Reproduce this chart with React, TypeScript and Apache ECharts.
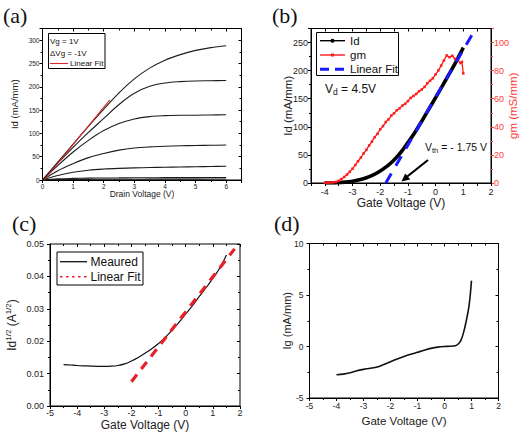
import React, { useEffect, useRef } from 'react';
import * as echarts from 'echarts';

const FONT = '"Liberation Sans", Arial, Helvetica, sans-serif';
const SERIF = '"Liberation Serif", "Times New Roman", serif';

// ---------- (a) output characteristics ----------
const vdValues = [0, 0.5, 1, 1.5, 2, 2.5, 3, 3.5, 4, 4.5, 5, 5.5, 6];
const idVgP1 = [0, 38.5, 77, 115, 152, 187, 217, 240, 257, 269, 278, 284, 288];
const idVg0 = [0, 36, 70, 102, 132, 162, 186, 201, 208, 211, 212.5, 213, 213.5];
const idVgM1 = [0, 31, 60, 85, 106, 121, 131, 136, 138, 139, 139, 139.5, 140];
const idVgM2 = [0, 20, 35, 48, 57, 64, 68.5, 71, 72.5, 73.5, 74, 74.5, 75];
const idVgM3 = [0, 9.5, 16.5, 21, 23.5, 25, 26, 26.8, 27.4, 28, 28.5, 29, 29.5];
const idVgM4 = [0, 2.5, 3.5, 4, 4.3, 4.5, 4.7, 4.8, 5, 5.1, 5.2, 5.3, 5.5];
const idVgM5 = [0, 0.9, 1.2, 1.4, 1.5, 1.6, 1.7, 1.8, 1.8, 1.9, 1.9, 2.0, 2.0];
const outputCurves = [idVgP1, idVg0, idVgM1, idVgM2, idVgM3, idVgM4, idVgM5];
const fitA = [[0.05, 0], [2.2, 172]];

// ---------- (b) transfer characteristics ----------
const vgId = [-4, -3.75, -3.5, -3.25, -3, -2.75, -2.5, -2.25, -2, -1.75, -1.5, -1.25, -1, -0.75, -0.5, -0.25, 0, 0.25, 0.5, 0.75, 1];
const idTransfer = [0, 0, 0.5, 1.5, 3.2, 5.8, 9.3, 14.5, 21.5, 30, 41, 55, 72, 90, 110, 131, 152, 173.5, 195, 217, 241];
const vgGm = [-4, -3.9, -3.8, -3.7, -3.6, -3.5, -3.4, -3.3, -3.2, -3.1, -3, -2.9, -2.8, -2.7, -2.6, -2.5, -2.4, -2.3, -2.2, -2.1, -2, -1.9, -1.8, -1.7, -1.6, -1.5, -1.4, -1.3, -1.2, -1.1, -1, -0.9, -0.8, -0.7, -0.6, -0.5, -0.4, -0.3, -0.2, -0.1, 0, 0.1, 0.2, 0.3, 0.4, 0.5, 0.6, 0.7, 0.8, 0.9, 0.95, 1];
const gmValues = [0.2, 0.1, 0.3, 0.4, 0.8, 1.6, 2.8, 4.3, 6.0, 8.0, 10.2, 12.8, 15.5, 18.1, 21.0, 23.6, 26.8, 29.5, 32.6, 35.0, 38.2, 40.5, 43.4, 45.3, 48.0, 49.6, 51.8, 53.2, 55.1, 56.4, 58.3, 60.6, 62.0, 63.4, 65.3, 66.6, 68.4, 71.0, 72.8, 74.6, 77.4, 80.2, 83.6, 87.2, 90.8, 89.6, 90.6, 88.4, 87.6, 85.4, 86.2, 78.0];
const fitB = [[-1.8, 0], [1.34, 266]];

// ---------- (c) sqrt(Id) ----------
const vgC = [-4.5, -4.25, -4, -3.75, -3.5, -3.25, -3, -2.75, -2.5, -2.25, -2, -1.75, -1.5, -1.25, -1, -0.75, -0.5, -0.25, 0, 0.25, 0.5, 0.75, 1, 1.25, 1.5];
const sqrtId = [0.0128, 0.01265, 0.0125, 0.0124, 0.01232, 0.01225, 0.01222, 0.01228, 0.0125, 0.013, 0.0139, 0.015, 0.0163, 0.0177, 0.0193, 0.0212, 0.0234, 0.0258, 0.0284, 0.031, 0.0338, 0.0365, 0.0394, 0.0425, 0.0466];
const fitC = [[-2, 0.0075], [1.8, 0.0485]];

// ---------- (d) gate current ----------
const vgD = [-4, -3.75, -3.5, -3.25, -3, -2.75, -2.5, -2.25, -2, -1.75, -1.5, -1.25, -1, -0.75, -0.5, -0.25, 0, 0.2, 0.4, 0.5, 0.6, 0.7, 0.8, 0.9, 0.95, 1];
const igValues = [-2.75, -2.68, -2.55, -2.35, -2.22, -2.12, -2.0, -1.75, -1.48, -1.22, -0.98, -0.76, -0.56, -0.36, -0.18, -0.06, 0, 0.02, 0.08, 0.22, 0.55, 1.3, 2.4, 3.8, 4.9, 6.4];

const zip = (xs: number[], ys: number[]) => xs.map((x, i) => [x, ys[i]]);

const tickLabel = (size: number, extra: any = {}) => ({
  fontSize: size, color: '#222', fontFamily: FONT, margin: 3, hideOverlap: false, ...extra,
});

function mainX(gridIndex: number, min: number, max: number, interval: number, name: string, nameGap: number, labelSize: number, nameSize: number, extra: any = {}) {
  return {
    type: 'value', gridIndex, min, max, interval, position: 'bottom',
    name, nameLocation: 'middle', nameGap, nameMoveOverlap: false,
    nameTextStyle: { fontSize: nameSize, color: '#222', fontFamily: FONT },
    axisLine: { show: true, onZero: false, lineStyle: { color: '#000', width: 1 } },
    axisTick: { show: true, inside: false, length: 3, lineStyle: { color: '#000' } },
    minorTick: { show: true, splitNumber: 2, length: 2, lineStyle: { color: '#000' } },
    splitLine: { show: false },
    axisLabel: tickLabel(labelSize, { showMaxLabel: false }),
    ...extra,
  };
}
function mirrorX(gridIndex: number, min: number, max: number, interval: number, minor = true) {
  return {
    type: 'value', gridIndex, min, max, interval, position: 'top',
    axisLine: { show: false, onZero: false },
    axisTick: { show: true, inside: true, length: 3, lineStyle: { color: '#000' } },
    minorTick: { show: minor, splitNumber: 2, length: 2, lineStyle: { color: '#000' } },
    splitLine: { show: false },
    axisLabel: { show: false },
  };
}
function hiddenX(gridIndex: number, min: number, max: number) {
  return { type: 'value', gridIndex, min, max, show: false, axisLine: { onZero: false } };
}
function mainY(gridIndex: number, min: number, max: number, interval: number, name: any, nameGap: number, labelSize: number, nameSize: number, extra: any = {}) {
  return {
    type: 'value', gridIndex, min, max, interval, position: 'left',
    name, nameLocation: 'middle', nameGap, nameRotate: 90, nameMoveOverlap: false,
    nameTextStyle: { fontSize: nameSize, color: '#222', fontFamily: FONT },
    axisLine: { show: true, onZero: false, lineStyle: { color: '#000', width: 1 } },
    axisTick: { show: true, inside: false, length: 3, lineStyle: { color: '#000' } },
    minorTick: { show: true, splitNumber: 2, length: 2, lineStyle: { color: '#000' } },
    splitLine: { show: false },
    axisLabel: tickLabel(labelSize, { showMaxLabel: false }),
    ...extra,
  };
}
function mirrorY(gridIndex: number, min: number, max: number, interval: number) {
  return {
    type: 'value', gridIndex, min, max, interval, position: 'right',
    axisLine: { show: false, onZero: false },
    axisTick: { show: true, inside: true, length: 3, lineStyle: { color: '#000' } },
    minorTick: { show: true, splitNumber: 2, length: 2, lineStyle: { color: '#000' } },
    splitLine: { show: false },
    axisLabel: { show: false },
  };
}
// label-only y axis living in its own (invisible) grid laid over the panel
function labelY(gridIndex: number, min: number, max: number, interval: number, size: number, formatter: any) {
  return {
    type: 'value', gridIndex, min, max, interval, position: 'left',
    axisLine: { show: false, onZero: false },
    axisTick: { show: false },
    minorTick: { show: false },
    splitLine: { show: false },
    axisLabel: tickLabel(size, { margin: 6, formatter, showMinLabel: true, showMaxLabel: true }),
  };
}

const txt = (text: string, x: number, y: number, size: number, extra: any = {}) => ({
  type: 'text', z: 100, x, y,
  style: { text, fontSize: size, fontFamily: FONT, fill: '#111', verticalAlign: 'middle', align: 'left', ...extra },
});
const seg = (x1: number, y1: number, x2: number, y2: number, stroke: string, lineWidth: number, lineDash?: number[]) => ({
  type: 'line', z: 100, shape: { x1, y1, x2, y2 },
  style: { stroke, lineWidth, lineDash: lineDash || null },
});
const box = (x: number, y: number, width: number, height: number) => ({
  type: 'rect', z: 99, shape: { x, y, width, height },
  style: { fill: '#fff', stroke: '#000', lineWidth: 1 },
});

export default function App() {
  const ref = useRef<HTMLDivElement>(null);
  useEffect(() => {
    if (!ref.current) return;
    const chart = echarts.init(ref.current, null, { renderer: 'svg' });
    const intOnly = (v: number) => (Math.abs(v - Math.round(v)) < 1e-9 ? String(Math.round(v)) : '');
    const two = (v: number) => v.toFixed(2);

    const gridC = { left: 50, top: 244, width: 190, height: 162 };
    const gridD = { left: 309.5, top: 243.5, width: 189, height: 154.5 };

    const option: any = {
      animation: false,
      backgroundColor: '#fff',
      textStyle: { fontFamily: FONT },
      grid: [
        ...[
          { left: 42.5, top: 28.5, width: 199, height: 151.5 },
          { left: 311, top: 28.5, width: 189, height: 154.5 },
          gridC,
          gridD,
        ].map((g) => ({ ...g, show: true, borderColor: '#000', borderWidth: 1, backgroundColor: 'transparent' })),
        { ...gridC, show: false },
        { ...gridD, show: false },
      ],
      xAxis: [
        mainX(0, 0, 6.5, 1, 'Drain Voltage (V)', 9, 6.5, 8.5),
        mainX(1, -4.5, 2, 0.5, 'Gate Voltage (V)', 14, 9, 12, {
          minorTick: { show: false },
          axisLabel: tickLabel(9, { formatter: intOnly, margin: 4 }),
        }),
        mainX(2, -5, 2, 1, 'Gate Voltage (V)', 13, 9, 12, { axisLabel: tickLabel(9, { formatter: intOnly, showMinLabel: true, margin: 2 }) }),
        mainX(3, -5, 2, 1, 'Gate Voltage (V)', 17, 8.5, 11.5, { axisLabel: tickLabel(8.5, { formatter: intOnly, showMinLabel: true }) }),
        mirrorX(0, 0, 6.5, 1),
        mirrorX(1, -4.5, 2, 0.5, false),
        mirrorX(2, -5, 2, 1),
        mirrorX(3, -5, 2, 1),
        hiddenX(4, -5, 2),
        hiddenX(5, -5, 2),
      ],
      yAxis: [
        mainY(0, 0, 325, 50, 'Id (mA/mm)', 23, 6.5, 9.5),
        mainY(1, 0, 275, 50, 'Id (mA/mm)', 17, 9, 11.5),
        {
          ...mainY(1, 0, 110, 20, 'gm (mS/mm)', 16, 9, 11.5),
          position: 'right',
          nameTextStyle: { fontSize: 11.5, color: '#ff3b3b', fontFamily: FONT },
          axisTick: { show: true, inside: false, length: 3, lineStyle: { color: '#ff3b3b' } },
          minorTick: { show: true, splitNumber: 2, length: 2, lineStyle: { color: '#ff3b3b' } },
          axisLabel: tickLabel(9, { showMaxLabel: false, color: '#ff3b3b' }),
        },
        mainY(2, 0, 0.05, 0.01, '{n|Id}{s|1/2}{n| (A}{s|1/2}{n|)}', 31, 9, 12, {
          axisLabel: { show: false },
          nameTextStyle: {
            fontSize: 12, color: '#222', fontFamily: FONT,
            rich: {
              n: { fontSize: 12, fontFamily: FONT, color: '#222' },
              s: { fontSize: 8, fontFamily: FONT, color: '#222', padding: [0, 0, 7, 0] },
            },
          },
        }),
        mainY(3, -5, 10, 5, 'Ig (mA/mm)', 17.5, 8.5, 11, { axisLabel: { show: false } }),
        mirrorY(0, 0, 325, 50),
        mirrorY(2, 0, 0.05, 0.01),
        mirrorY(3, -5, 10, 5),
        labelY(4, 0, 0.05, 0.01, 9, two),
        labelY(5, -5, 10, 5, 8.5, intOnly),
      ],
      series: [
        ...outputCurves.map((arr) => ({
          type: 'line', xAxisIndex: 0, yAxisIndex: 0, data: zip(vdValues, arr),
          showSymbol: false, smooth: 0.35,
          lineStyle: { color: '#1c1c1c', width: 1.1 },
        })),
        {
          type: 'line', xAxisIndex: 0, yAxisIndex: 0, data: fitA, showSymbol: false,
          lineStyle: { color: '#e0282c', width: 1.1 }, z: 3,
        },
        {
          type: 'line', xAxisIndex: 1, yAxisIndex: 1, data: zip(vgId, idTransfer),
          showSymbol: false, smooth: 0.35,
          lineStyle: { color: '#000', width: 3.6 },
        },
        {
          type: 'line', xAxisIndex: 1, yAxisIndex: 2, data: zip(vgGm, gmValues),
          showSymbol: true, symbol: 'rect', symbolSize: 2.5,
          itemStyle: { color: '#ff1a1a' },
          lineStyle: { color: '#ff1a1a', width: 1.3 },
        },
        {
          type: 'line', xAxisIndex: 1, yAxisIndex: 1, data: fitB, showSymbol: false,
          lineStyle: { color: '#1a1aff', width: 3, type: [11, 9] }, z: 4,
        },
        {
          type: 'line', xAxisIndex: 2, yAxisIndex: 3, data: zip(vgC, sqrtId),
          showSymbol: false, smooth: 0.35,
          lineStyle: { color: '#111', width: 1.2 },
        },
        {
          type: 'line', xAxisIndex: 2, yAxisIndex: 3, data: fitC, showSymbol: false,
          lineStyle: { color: '#e8202a', width: 3.2, type: [9, 7] },
        },
        {
          type: 'line', xAxisIndex: 3, yAxisIndex: 4, data: zip(vgD, igValues),
          showSymbol: false, smooth: 0.3,
          lineStyle: { color: '#111', width: 1.6 },
        },
      ],
      graphic: [
        // panel labels
        { type: 'text', x: 3, y: 4, z: 100, style: { text: '(a)', fontSize: 22, fontFamily: SERIF, fill: '#111' } },
        { type: 'text', x: 272, y: 4, z: 100, style: { text: '(b)', fontSize: 22, fontFamily: SERIF, fill: '#111' } },
        { type: 'text', x: 12, y: 212, z: 100, style: { text: '(c)', fontSize: 22, fontFamily: SERIF, fill: '#111' } },
        { type: 'text', x: 274, y: 212, z: 100, style: { text: '(d)', fontSize: 22, fontFamily: SERIF, fill: '#111' } },
        // legend (a)
        box(48.5, 33.5, 56.5, 35),
        txt('Vg = 1V', 50, 41.5, 8),
        txt('\u0394Vg = -1V', 50, 53, 8),
        seg(50, 63.5, 68, 63.5, '#e0282c', 1.1),
        txt('Linear Fit', 70, 63.5, 8),
        // legend (b)
        box(316.5, 32.5, 82, 43),
        seg(320, 40.7, 345, 40.7, '#000', 1.4),
        { type: 'circle', z: 101, shape: { cx: 332.5, cy: 40.7, r: 2 }, style: { fill: '#000' } },
        txt('Id', 350, 40.7, 11.5),
        seg(320, 55, 345, 55, '#ff1a1a', 1.4),
        { type: 'rect', z: 101, shape: { x: 331, y: 53.5, width: 3, height: 3 }, style: { fill: '#ff1a1a' } },
        txt('gm', 350, 55, 11.5),
        seg(320, 69.3, 345, 69.3, '#1a1aff', 3, [9, 6]),
        txt('Linear Fit', 350, 69.3, 11.5),
        {
          type: 'text', z: 100, x: 325, y: 89,
          style: {
            text: '{n|V}{s|d}{n| = 4.5V}', fill: '#111', verticalAlign: 'middle', fontFamily: FONT,
            rich: { n: { fontSize: 12, fontFamily: FONT, fill: '#111' }, s: { fontSize: 8.5, fontFamily: FONT, fill: '#111', padding: [6, 0, 0, 0] } },
          },
        },
        {
          type: 'text', z: 100, x: 425, y: 147,
          style: {
            text: '{n|V}{s|th}{n| = - 1.75 V}', fill: '#111', verticalAlign: 'middle', fontFamily: FONT,
            rich: { n: { fontSize: 10.5, fontFamily: FONT, fill: '#111' }, s: { fontSize: 7.5, fontFamily: FONT, fill: '#111', padding: [6, 0, 0, 0] } },
          },
        },
        seg(428, 160, 406, 177.5, '#000', 2.2),
        { type: 'polygon', z: 101, shape: { points: [[401.5, 181.5], [410.2, 179.6], [405.2, 173.4]] }, style: { fill: '#000' } },
        // legend (c)
        box(57, 252, 86, 33),
        seg(60, 261.7, 87, 261.7, '#111', 1.3),
        txt('Meaured', 90.5, 261.7, 12),
        seg(60, 276.7, 87, 276.7, '#e8202a', 1.6, [2.5, 3.5]),
        txt('Linear Fit', 90.5, 276.7, 12),
      ],
    };
    chart.setOption(option);
    return () => chart.dispose();
  }, []);
  return (
    <div
      ref={ref}
      style={{ position: 'fixed', left: 0, top: 0, width: 520, height: 432, background: '#fff' }}
    />
  );
}
